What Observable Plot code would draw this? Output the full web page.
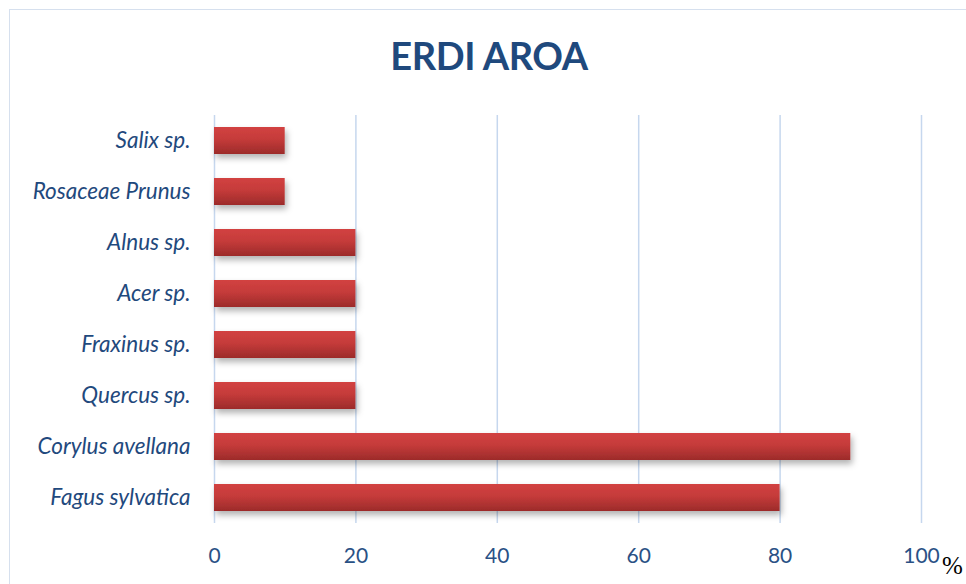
<!DOCTYPE html>
<html><head><meta charset="utf-8">
<script src="https://cdn.jsdelivr.net/npm/d3@7"></script>
<script src="https://cdn.jsdelivr.net/npm/@observablehq/plot@0.6"></script>
<style>
html,body{margin:0;padding:0;background:#fff;}
#wrap{position:relative;width:966px;height:584px;overflow:hidden;}
#frame{position:absolute;left:9px;top:9px;width:1000px;height:700px;border:1.5px solid #d6e0ee;box-sizing:border-box;}
#title{position:absolute;left:0;width:978px;top:32px;text-align:center;font-family:Lato,sans-serif;font-weight:bold;font-size:38px;color:#1f497d;letter-spacing:-0.4px;}
#pct{position:absolute;left:942px;top:552px;font-family:"Liberation Serif",serif;font-size:25px;color:#000;}
#chart{position:absolute;left:0;top:0;}
</style></head>
<body>
<div id="wrap">
<div id="frame"></div>
<div id="chart"></div>
<div id="title">ERDI AROA</div>
<div id="pct">%</div>
</div>
<script>
const species = ["Salix sp.", "Rosaceae Prunus", "Alnus sp.", "Acer sp.", "Fraxinus sp.", "Quercus sp.", "Corylus avellana", "Fagus sylvatica"];
const values = [10, 10, 20, 20, 20, 20, 90, 80];
const xTicks = [0, 20, 40, 60, 80, 100];

const data = species.map((s, i) => ({species: s, value: values[i]}));

const chart = Plot.plot({
  width: 966,
  height: 584,
  marginLeft: 214,
  marginRight: 45,
  marginTop: 115,
  marginBottom: 61,
  style: {background: "transparent", overflow: "visible"},
  x: {domain: [0, 100], ticks: xTicks, label: null},
  y: {domain: species, label: null, paddingInner: 0.47, paddingOuter: 0.235},
  marks: [
    Plot.gridX(xTicks, {stroke: "#c6d7ee", strokeOpacity: 1, strokeWidth: 1.5}),
    Plot.barX(data, {x: "value", y: "species", fill: "url(#barGrad)", className: "bars"}),
    Plot.axisX({ticks: xTicks, tickSize: 0, tickPadding: 25, fontSize: 21, fill: "#2a5185", fontFamily: "Lato, sans-serif", label: null}),
    Plot.axisY({tickSize: 0, tickPadding: 24, fontSize: 22.5, fill: "#1f497d", fontFamily: "Lato, sans-serif", fontStyle: "italic", label: null})
  ]
});

const svg = d3.select(chart);
const defs = svg.insert("defs", ":first-child");
const g = defs.append("linearGradient").attr("id", "barGrad").attr("x1", 0).attr("y1", 0).attr("x2", 0).attr("y2", 1);
g.append("stop").attr("offset", "0%").attr("stop-color", "#d24241");
g.append("stop").attr("offset", "45%").attr("stop-color", "#c53b3a");
g.append("stop").attr("offset", "100%").attr("stop-color", "#9c2b2a");
const f = defs.append("filter").attr("id", "shadow").attr("x", "-10%").attr("y", "-30%").attr("width", "130%").attr("height", "180%");
f.append("feDropShadow").attr("dx", 2).attr("dy", 4).attr("stdDeviation", 3).attr("flood-color", "#000").attr("flood-opacity", 0.3);
svg.selectAll(".bars").attr("filter", "url(#shadow)");

document.getElementById("chart").appendChild(chart);
</script>
</body></html>
